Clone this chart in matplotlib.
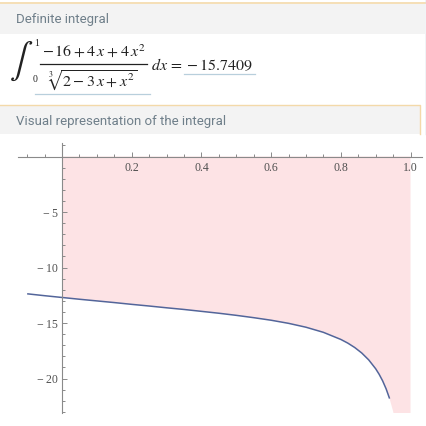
import numpy as np
import matplotlib.pyplot as plt
from matplotlib.ticker import FixedLocator
from matplotlib.patches import Rectangle

plt.rcParams['mathtext.fontset'] = 'stix'

# curve values
x_curve = [-0.10, -0.05, 0.00, 0.05, 0.10, 0.15, 0.20, 0.25, 0.30, 0.35, 0.40,
           0.45, 0.50, 0.55, 0.60, 0.65, 0.70, 0.75, 0.80, 0.82, 0.84, 0.86,
           0.88, 0.90, 0.91, 0.92, 0.93, 0.94]
y_curve = [-12.37, -12.54, -12.70, -12.86, -13.01, -13.16, -13.32, -13.47, -13.63,
           -13.78, -13.95, -14.12, -14.31, -14.52, -14.75, -15.03, -15.38, -15.84,
           -16.48, -16.81, -17.21, -17.70, -18.32, -19.12, -19.62, -20.21, -20.93,
           -21.81]
# shaded region continues past the visible end of the curve
x_tail = [0.95, 0.96, 0.98, 1.00]
y_tail = [-22.94, -24.45, -30.10, -60.00]

x_ticks = [0.2, 0.4, 0.6, 0.8, 1.0]
x_tick_labels = ["0.2", "0.4", "0.6", "0.8", "1.0"]
y_ticks = [-5, -10, -15, -20]
y_tick_labels = ["\u2212\u20095", "\u2212\u200910", "\u2212\u200915", "\u2212\u200920"]

W, H = 427, 426
fig = plt.figure(figsize=(W / 100, H / 100), dpi=100)

# page background drawn in pixel coordinates
bg = fig.add_axes([0, 0, 1, 1], zorder=0)
bg.set_xlim(0, W)
bg.set_ylim(H, 0)
bg.axis('off')

orange = '#f3d9a9'
band = '#f3f3f3'
title_col = '#6f7f8a'
bg.add_patch(Rectangle((0, 4), 425, 30, color=band, lw=0))
bg.add_patch(Rectangle((0, 105), 420, 29, color=band, lw=0))
bg.plot([0, 425], [3, 3], color=orange, lw=1.2)
bg.plot([0, 420, 420], [104.5, 104.5, 134], color=orange, lw=1.0)
bg.plot([426, 426], [0, 134], color='#b9c8d8', lw=1.0)

bg.text(16, 19, "Definite integral", fontsize=9.5, family='Roboto',
        color=title_col, va='center', ha='left')
bg.text(16, 121, "Visual representation of the integral", fontsize=9.5,
        family='Roboto', color=title_col, va='center', ha='left')

# formula
fcol = '#222222'
bg.text(21, 61, r'$\int$', fontsize=25, color=fcol, ha='center', va='center')
bg.text(34, 43, '1', fontsize=7, family='Liberation Serif', color=fcol,
        ha='left', va='center')
bg.text(33, 80, '0', fontsize=7, family='Liberation Serif', color=fcol,
        ha='left', va='center')
bg.text(94, 51, r'$-\,16\:+\:4\,x\:+\:4\,x^2$', fontsize=11.5, color=fcol,
        ha='center', va='center')
bg.plot([40, 147], [64, 64], color=fcol, lw=0.9)
bg.text(92, 81, r'$\sqrt[3]{2\:-\:3\,x\:+\:x^2}$', fontsize=11.5, color=fcol,
        ha='center', va='center')
bg.text(151, 65, r'$dx\:=\:-\,15.7409$', fontsize=11.5, color=fcol,
        ha='left', va='center')
bg.plot([35, 150], [94, 94], color='#b8cfdc', lw=0.9)
bg.plot([184, 255], [74, 74], color='#b8cfdc', lw=0.9)

# plot axes
x0_px, ux = 62, 348.5
y0_px, uy = 156.5, 11.1
left_px, right_px, top_px, bot_px = 18, 422, 143, 413
ax = fig.add_axes([left_px / W, 1 - bot_px / H, (right_px - left_px) / W,
                   (bot_px - top_px) / H], zorder=1)
ax.patch.set_alpha(0)
ax.set_xlim((left_px - x0_px) / ux, (right_px - x0_px) / ux)
ax.set_ylim(-(bot_px - y0_px) / uy, (y0_px - top_px) / uy)

xf = [x for x in x_curve if x >= 0] + x_tail
yf = [y for x, y in zip(x_curve, y_curve) if x >= 0] + y_tail
ax.fill_between(xf, yf, 0, color='#fde3e5', lw=0)
ax.plot(x_curve, y_curve, color='#53659a', lw=1.1, solid_capstyle='butt')

for s in ['top', 'right']:
    ax.spines[s].set_visible(False)
ax.spines['left'].set_position(('data', 0))
ax.spines['bottom'].set_position(('data', 0))
for s in ['left', 'bottom']:
    ax.spines[s].set_color('#8a8a8a')
    ax.spines[s].set_linewidth(0.8)

ax.xaxis.set_major_locator(FixedLocator(x_ticks))
ax.set_xticklabels(x_tick_labels)
ax.xaxis.set_minor_locator(FixedLocator(np.arange(-0.1, 1.001, 0.05)))
ax.yaxis.set_major_locator(FixedLocator(y_ticks))
ax.set_yticklabels(y_tick_labels)
ax.yaxis.set_minor_locator(FixedLocator(np.arange(-23, 1.5, 1)))

ax.tick_params(which='both', direction='in', color='#8a8a8a', width=0.7,
               labelsize=8.5, labelcolor='#505050')
ax.tick_params(which='major', length=3.5)
ax.tick_params(which='minor', length=2)
ax.tick_params(axis='x', pad=4)
ax.tick_params(axis='y', pad=3)
for lab in ax.get_xticklabels() + ax.get_yticklabels():
    lab.set_family('Liberation Serif')

fig.savefig('out.png', dpi=100)
